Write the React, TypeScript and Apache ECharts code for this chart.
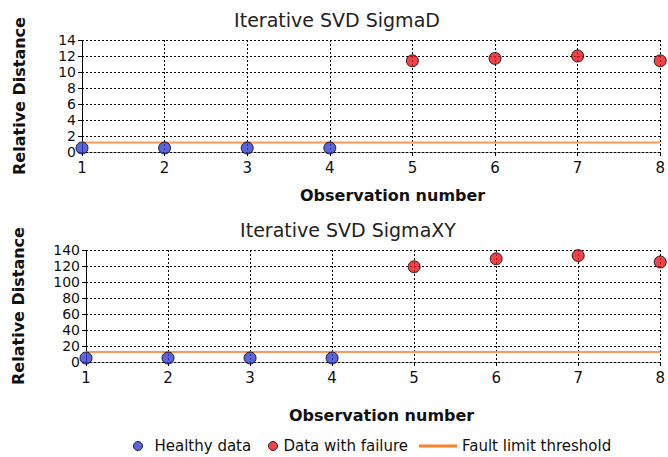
import React, { useEffect, useRef } from "react";
import * as echarts from "echarts";

const observations = [1, 2, 3, 4, 5, 6, 7, 8];
const healthyObs = [1, 2, 3, 4];
const failureObs = [5, 6, 7, 8];

const sigmaDHealthy = [0.5, 0.5, 0.5, 0.5];
const sigmaDFailure = [11.4, 11.7, 12.0, 11.4];
const sigmaDThreshold = 1.2;

const sigmaXYHealthy = [5, 5, 5, 5];
const sigmaXYFailure = [119, 129, 133, 125];
const sigmaXYThreshold = 12.5;

const titles = ["Iterative SVD SigmaD", "Iterative SVD SigmaXY"];
const legendNames = ["Healthy data", "Data with failure", "Fault limit threshold"];

const FONT = "DejaVu Sans";
const BLUE = "#3440d0";
const RED = "#e8141c";

export default function App() {
  const ref = useRef<HTMLDivElement>(null);
  useEffect(() => {
    if (!ref.current) return;
    const chart = echarts.init(ref.current, null, { renderer: "svg" });
    const dotted = { type: [2, 2] as any, color: "#000", width: 1 };
    const xAxis = (gi: number, gap: number, shift: number) => ({
      type: "value",
      gridIndex: gi,
      min: 1,
      max: 8,
      interval: 1,
      name: "Observation number",
      nameLocation: "middle",
      nameGap: gap,
      nameTextStyle: { fontFamily: FONT, fontWeight: "bold", fontSize: 16, color: "#111", padding: [0, 0, 0, shift] },
      axisLine: { show: true, lineStyle: dotted },
      axisTick: { show: true, length: 4, lineStyle: { color: "#000" } },
      axisLabel: { fontFamily: FONT, fontSize: 15, color: "#111", margin: 8 },
      splitLine: { show: true, lineStyle: dotted },
    });
    const yAxis = (gi: number, max: number, interval: number, gap: number) => ({
      type: "value",
      gridIndex: gi,
      min: 0,
      max,
      interval,
      name: "Relative Distance",
      nameLocation: "middle",
      nameGap: gap,
      nameTextStyle: { fontFamily: FONT, fontWeight: "bold", fontSize: 16, color: "#111" },
      axisLine: { show: true, lineStyle: dotted },
      axisTick: { show: true, length: 4, lineStyle: { color: "#000" } },
      axisLabel: { fontFamily: FONT, fontSize: 14, lineHeight: 14, color: "#111", margin: 6 },
      splitLine: { show: true, lineStyle: dotted },
    });
    const pairs = (xs: number[], ys: number[]) => xs.map((x, i) => [x, ys[i]]);
    const scatter = (name: string, color: string, gi: number, data: number[][]) => ({
      type: "scatter",
      name,
      xAxisIndex: gi,
      yAxisIndex: gi,
      symbol: "circle",
      symbolSize: 12,
      itemStyle: { color, borderColor: "#000", borderWidth: 1 },
      data,
      z: 3,
    });
    const threshold = (gi: number, v: number) => ({
      type: "line",
      name: legendNames[2],
      xAxisIndex: gi,
      yAxisIndex: gi,
      symbol: "none",
      lineStyle: { color: "#ff9a5a", width: 2 },
      itemStyle: { color: "#ff7f2a" },
      data: [
        [observations[0], v],
        [observations[observations.length - 1], v],
      ],
      z: 2,
    });
    const legendText = { fontFamily: FONT, fontSize: 15, lineHeight: 16, color: "#111" };
    chart.setOption({
      animation: false,
      backgroundColor: "#fff",
      title: [
        { text: titles[0], left: 332, top: 5, textAlign: "center", textStyle: { fontFamily: FONT, fontSize: 19, fontWeight: "normal", color: "#222" } },
        { text: titles[1], left: 343, top: 215, textAlign: "center", textStyle: { fontFamily: FONT, fontSize: 19, fontWeight: "normal", color: "#222" } },
      ],
      legend: [
        {
          left: 133,
          top: 436,
          padding: [2, 5, 2, 0],
          itemWidth: 9,
          itemHeight: 9,
          textStyle: { ...legendText, padding: [0, 0, 0, 7] },
          data: [{ name: legendNames[0], icon: "circle", itemStyle: { color: BLUE, borderColor: "#000", borderWidth: 1 } }],
        },
        {
          left: 268,
          top: 436,
          padding: [2, 5, 2, 0],
          itemWidth: 9,
          itemHeight: 9,
          textStyle: { ...legendText, padding: [0, 0, 0, 1] },
          data: [{ name: legendNames[1], icon: "circle", itemStyle: { color: RED, borderColor: "#000", borderWidth: 1 } }],
        },
        {
          left: 419,
          top: 436,
          padding: [2, 5, 2, 0],
          itemWidth: 38,
          itemHeight: 3,
          textStyle: { ...legendText },
          data: [{ name: legendNames[2], icon: "rect", itemStyle: { color: "#ff7f2a" } }],
        },
      ],
      grid: [
        { left: 82, right: 7, top: 40, height: 112 },
        { left: 86, right: 5, top: 250, height: 112 },
      ],
      xAxis: [xAxis(0, 35, 43), xAxis(1, 45, 17)],
      yAxis: [yAxis(0, 14, 2, 55), yAxis(1, 140, 20, 60)],
      series: [
        scatter(legendNames[0], BLUE, 0, pairs(healthyObs, sigmaDHealthy)),
        scatter(legendNames[1], RED, 0, pairs(failureObs, sigmaDFailure)),
        threshold(0, sigmaDThreshold),
        scatter(legendNames[0], BLUE, 1, pairs(healthyObs, sigmaXYHealthy)),
        scatter(legendNames[1], RED, 1, pairs(failureObs, sigmaXYFailure)),
        threshold(1, sigmaXYThreshold),
      ],
    });
    return () => chart.dispose();
  }, []);
  return <div ref={ref} style={{ width: 668, height: 457, position: "absolute", left: 0, top: 0 }} />;
}
